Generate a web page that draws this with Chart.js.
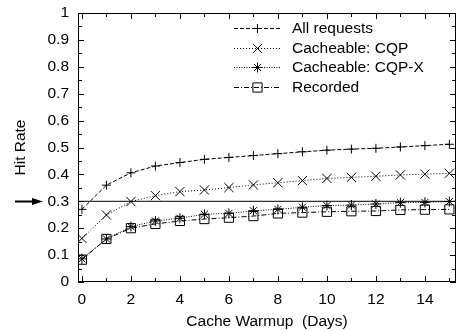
<!DOCTYPE html>
<html>
<head>
<meta charset="utf-8">
<script src="https://cdn.jsdelivr.net/npm/chart.js@4/dist/chart.umd.min.js"></script>
<style>
  html, body { margin: 0; padding: 0; background: #fff; }
  canvas { display: block; }
</style>
</head>
<body>
<canvas id="hitChart" width="456" height="331"></canvas>
<script>
// values
const days = [0, 1, 2, 3, 4, 5, 6, 7, 8, 9, 10, 11, 12, 13, 14, 15];
const allRequests = [0.27, 0.36, 0.406, 0.431, 0.444, 0.456, 0.463, 0.47, 0.477, 0.484, 0.49, 0.494, 0.497, 0.502, 0.507, 0.512];
const cacheableCqp = [0.162, 0.249, 0.299, 0.321, 0.336, 0.342, 0.351, 0.361, 0.369, 0.377, 0.385, 0.389, 0.393, 0.398, 0.401, 0.404];
const cacheableCqpX = [0.086, 0.16, 0.206, 0.227, 0.237, 0.252, 0.255, 0.265, 0.27, 0.278, 0.284, 0.286, 0.29, 0.295, 0.296, 0.299];
const recorded = [0.083, 0.16, 0.2, 0.216, 0.227, 0.234, 0.239, 0.245, 0.255, 0.258, 0.261, 0.263, 0.264, 0.268, 0.269, 0.27];
const seriesNames = ['All requests', 'Cacheable: CQP', 'Cacheable: CQP-X', 'Recorded'];
const xTickLabels = [0, 2, 4, 6, 8, 10, 12, 14];
const yTickLabels = [0, 0.1, 0.2, 0.3, 0.4, 0.5, 0.6, 0.7, 0.8, 0.9, 1];
const threshold = 0.3;
const xRange = [-0.16, 15.27];

const FONT = 'Liberation Sans, Arial, Helvetica, sans-serif';

function toPoints(values) {
    return days.map((d, i) => ({ x: d, y: values[i] }));
}

function series(label, values, dash, pointStyle, radius) {
    return {
        label: label,
        data: toPoints(values),
        borderColor: '#000',
        borderWidth: 1,
        borderDash: dash,
        pointStyle: pointStyle,
        pointRadius: radius,
        pointBorderColor: '#000',
        pointBackgroundColor: 'rgba(0,0,0,0)',
        pointBorderWidth: 1,
        fill: false,
        tension: 0,
    };
}

const datasets = [
    series(seriesNames[0], allRequests, [4, 2], 'cross', 4.5),
    series(seriesNames[1], cacheableCqp, [1, 2], 'crossRot', 6.5),
    series(seriesNames[2], cacheableCqpX, [1, 1.5], 'star', 5),
    series(seriesNames[3], recorded, [5, 2, 1, 2], 'rect', 6.5),
    {
        label: 'threshold',
        data: xRange.map(x => ({ x: x, y: threshold })),
        borderColor: '#000',
        borderWidth: 1,
        pointRadius: 0,
        fill: false,
    },
];

// gnuplot style frame with inward ticks, arrow and key
const gnuplotLook = {
    id: 'gnuplotLook',
    afterDatasetsDraw(chart) {
        const ctx = chart.ctx;
        const area = chart.chartArea;
        const xs = chart.scales.x;
        const ys = chart.scales.y;
        ctx.save();
        ctx.strokeStyle = '#000';
        ctx.lineWidth = 1;
        ctx.setLineDash([]);
        ctx.strokeRect(area.left + 0.5, area.top + 0.5, area.right - area.left - 1, area.bottom - area.top - 1);

        ctx.beginPath();
        for (let d = 0; d <= 15; d++) {
            const px = Math.round(xs.getPixelForValue(d)) + 0.5;
            const len = d % 2 === 0 ? 6 : 4;
            ctx.moveTo(px, area.bottom);
            ctx.lineTo(px, area.bottom - len);
            ctx.moveTo(px, area.top);
            ctx.lineTo(px, area.top + len);
        }
        for (let k = 0; k <= 20; k++) {
            const py = Math.round(ys.getPixelForValue(k * 0.05)) + 0.5;
            const len = k % 2 === 0 ? 6 : 4;
            ctx.moveTo(area.left, py);
            ctx.lineTo(area.left + len, py);
            ctx.moveTo(area.right, py);
            ctx.lineTo(area.right - len, py);
        }
        ctx.stroke();

        // arrow pointing at the 0.3 line
        const ay = Math.round(ys.getPixelForValue(threshold)) + 0.5;
        ctx.lineWidth = 2;
        ctx.beginPath();
        ctx.moveTo(15, ay);
        ctx.lineTo(34, ay);
        ctx.stroke();
        ctx.fillStyle = '#000';
        ctx.beginPath();
        ctx.moveTo(43, ay);
        ctx.lineTo(32, ay - 3.5);
        ctx.lineTo(32, ay + 3.5);
        ctx.closePath();
        ctx.fill();

        // key
        ctx.font = '15.5px ' + FONT;
        ctx.textBaseline = 'middle';
        ctx.textAlign = 'left';
        for (let i = 0; i < seriesNames.length; i++) {
            const ds = chart.data.datasets[i];
            const y = Math.round(area.top + 15 + i * 19.7) + 0.5;
            const x1 = area.right - 222;
            const x2 = area.right - 175;
            ctx.lineWidth = 1;
            ctx.strokeStyle = '#000';
            ctx.setLineDash(ds.borderDash);
            ctx.beginPath();
            ctx.moveTo(x1, y);
            ctx.lineTo(x2, y);
            ctx.stroke();
            ctx.setLineDash([]);
            ctx.fillStyle = 'rgba(0,0,0,0)';
            Chart.helpers.drawPoint(ctx, {
                pointStyle: ds.pointStyle,
                radius: ds.pointRadius,
                rotation: 0,
                borderWidth: 1,
            }, (x1 + x2) / 2, y);
            ctx.fillStyle = '#000';
            ctx.fillText(ds.label, area.right - 164, y);
        }
        ctx.restore();
    }
};

const ctx = document.getElementById('hitChart').getContext('2d');
const hitChart = new Chart(ctx, {
    type: 'line',
    data: { datasets: datasets },
    options: {
        responsive: false,
        animation: false,
        layout: { autoPadding: false, padding: { top: 13, right: -4, left: 0, bottom: 0 } },
        plugins: {
            legend: { display: false },
            tooltip: { enabled: false },
        },
        scales: {
            x: {
                type: 'linear',
                min: xRange[0],
                max: xRange[1],
                afterBuildTicks: s => { s.ticks = xTickLabels.map(v => ({ value: v })); },
                afterFit: s => {
                    s.height = 49;
                    s.paddingLeft = 0;
                    s.paddingRight = 0;
                },
                grid: { display: false, drawTicks: false },
                border: { display: false },
                ticks: {
                    color: '#000',
                    padding: 8,
                    maxRotation: 0,
                    font: { family: FONT, size: 15.5 },
                    callback: v => String(v),
                },
                title: {
                    display: true,
                    text: 'Cache Warmup  (Days)',
                    color: '#000',
                    font: { family: FONT, size: 15.5 },
                    padding: { top: 0, bottom: 0 },
                },
            },
            y: {
                min: 0,
                max: 1,
                afterBuildTicks: s => { s.ticks = yTickLabels.map(v => ({ value: v })); },
                afterFit: s => {
                    s.width = 78;
                    s.paddingTop = 0;
                    s.paddingBottom = 0;
                },
                grid: { display: false, drawTicks: false },
                border: { display: false },
                ticks: {
                    color: '#000',
                    padding: 9,
                    font: { family: FONT, size: 15.5 },
                    callback: v => String(Math.round(v * 10) / 10),
                },
                title: {
                    display: true,
                    text: 'Hit Rate',
                    color: '#000',
                    font: { family: FONT, size: 15.5 },
                    padding: { top: 11, bottom: 0 },
                },
            },
        },
    },
    plugins: [gnuplotLook],
});
</script>
</body>
</html>
